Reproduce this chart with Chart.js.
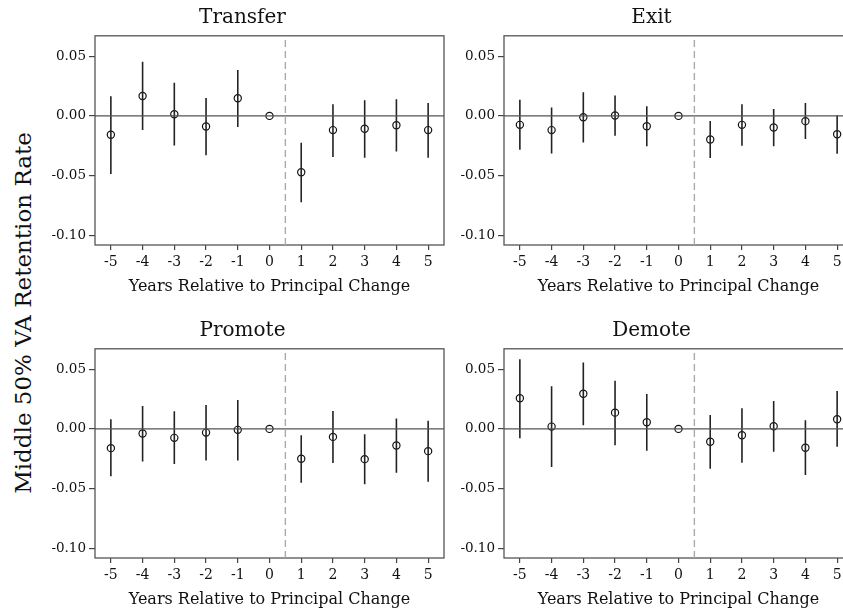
<!DOCTYPE html>
<html>
<head>
<meta charset="utf-8">
<script src="https://cdn.jsdelivr.net/npm/chart.js@4.4.0/dist/chart.umd.min.js"></script>
<style>
  html, body { margin: 0; padding: 0; background: #fff; width: 843px; height: 614px; overflow: hidden; position: relative; }
  canvas { position: absolute; }
  #ytitle {
    position: absolute; left: 23px; top: 313px;
    transform: translate(-50%, -50%) rotate(-90deg);
    font: 23px "DejaVu Serif"; white-space: nowrap; color: #111;
  }
</style>
</head>
<body>
<div id="ytitle">Middle 50% VA Retention Rate</div>
<canvas id="cTransfer" width="410" height="305" style="left:41px;top:0px"></canvas>
<canvas id="cExit" width="410" height="305" style="left:450px;top:0px"></canvas>
<canvas id="cPromote" width="410" height="305" style="left:41px;top:313px"></canvas>
<canvas id="cDemote" width="410" height="305" style="left:450px;top:313px"></canvas>
<script>
const years = [-5, -4, -3, -2, -1, 0, 1, 2, 3, 4, 5];
const yTicks = [-0.10, -0.05, 0.00, 0.05];

const transferEst = [-0.0158, 0.0167, 0.0014, -0.0089, 0.0148, 0, -0.0472, -0.0119, -0.0108, -0.0078, -0.0119];
const transferLo  = [-0.0486, -0.0119, -0.0247, -0.0330, -0.0092, null, -0.0722, -0.0344, -0.0350, -0.0297, -0.0350];
const transferHi  = [0.0164, 0.0453, 0.0278, 0.0150, 0.0383, null, -0.0225, 0.0097, 0.0131, 0.0139, 0.0108];

const exitEst = [-0.0075, -0.0119, -0.0011, 0.0003, -0.0086, 0, -0.0197, -0.0075, -0.0097, -0.0044, -0.0153];
const exitLo  = [-0.0283, -0.0314, -0.0222, -0.0167, -0.0253, null, -0.0353, -0.0250, -0.0253, -0.0194, -0.0317];
const exitHi  = [0.0136, 0.0070, 0.0197, 0.0170, 0.0081, null, -0.0042, 0.0097, 0.0058, 0.0108, 0.0006];

const promoteEst = [-0.0161, -0.0039, -0.0075, -0.0031, -0.0008, 0, -0.0250, -0.0067, -0.0253, -0.0139, -0.0186];
const promoteLo  = [-0.0397, -0.0272, -0.0294, -0.0264, -0.0264, null, -0.0450, -0.0286, -0.0464, -0.0367, -0.0442];
const promoteHi  = [0.0081, 0.0192, 0.0147, 0.0200, 0.0242, null, -0.0053, 0.0150, -0.0044, 0.0086, 0.0069];

const demoteEst = [0.0256, 0.0019, 0.0294, 0.0136, 0.0056, 0, -0.0108, -0.0053, 0.0022, -0.0158, 0.0081];
const demoteLo  = [-0.0078, -0.0319, 0.0031, -0.0136, -0.0183, null, -0.0333, -0.0283, -0.0192, -0.0386, -0.0150];
const demoteHi  = [0.0583, 0.0356, 0.0556, 0.0403, 0.0292, null, 0.0117, 0.0172, 0.0233, 0.0072, 0.0317];

const yMin = -0.108, yMax = 0.067;
const xMin = -5.5, xMax = 5.5;
const serif = "DejaVu Serif";

// box around the plot area
const frame = {
  id: 'frame',
  beforeDatasetsDraw(chart) {
    const a = chart.chartArea, c = chart.ctx;
    c.save();
    c.strokeStyle = '#555';
    c.lineWidth = 1.3;
    c.strokeRect(a.left, a.top, a.right - a.left, a.bottom - a.top);
    c.restore();
  }
};

function makeChart(id, title, est, lo, hi) {
  let ci = [];
  years.forEach((x, i) => {
    if (lo[i] == null) return;
    ci.push({x: x, y: lo[i]}, {x: x, y: hi[i]}, {x: x, y: null});
  });
  return new Chart(document.getElementById(id), {
    type: 'scatter',
    data: {
      datasets: [
        {
          data: [{x: xMin, y: 0}, {x: xMax, y: 0}],
          showLine: true, borderColor: '#555', borderWidth: 1.4, pointRadius: 0
        },
        {
          data: [{x: 0.5, y: yMin}, {x: 0.5, y: yMax}],
          showLine: true, borderColor: '#aaa', borderWidth: 1.4, borderDash: [7, 4], pointRadius: 0
        },
        {
          data: ci,
          showLine: true, spanGaps: false, borderColor: '#222', borderWidth: 1.6, pointRadius: 0
        },
        {
          data: years.map((x, i) => ({x: x, y: est[i]})),
          pointStyle: 'circle', pointRadius: 3.6, borderWidth: 1.2,
          borderColor: '#111', backgroundColor: 'rgba(0,0,0,0)'
        }
      ]
    },
    options: {
      responsive: false,
      animation: false,
      layout: { padding: { right: 7 } },
      plugins: {
        legend: { display: false },
        tooltip: { enabled: false },
        title: {
          display: true, text: title, color: '#111',
          font: { family: serif, size: 20, weight: 'normal' },
          padding: { top: 6, bottom: 5.8 }
        }
      },
      scales: {
        x: {
          type: 'linear', min: xMin, max: xMax,
          afterBuildTicks: s => { s.ticks = years.map(v => ({value: v})); },
          afterFit: s => { s.height = 60; },
          border: { display: false },
          grid: { drawOnChartArea: false, drawTicks: true, tickLength: 5, color: '#444', lineWidth: 1.2 },
          ticks: {
            color: '#111', padding: 4, maxRotation: 0, autoSkip: false,
            font: { family: serif, size: 14 },
            callback: v => String(v)
          },
          title: {
            display: true, text: 'Years Relative to Principal Change', color: '#111',
            font: { family: serif, size: 16 },
            padding: { top: 0, bottom: 9 }
          }
        },
        y: {
          min: yMin, max: yMax,
          afterBuildTicks: s => { s.ticks = yTicks.map(v => ({value: v})); },
          afterFit: s => { s.width = 54; },
          border: { display: false },
          grid: { drawOnChartArea: false, drawTicks: true, tickLength: 6, color: '#444', lineWidth: 1.2 },
          ticks: {
            color: '#111', padding: 3,
            font: { family: serif, size: 13.5 },
            callback: v => v.toFixed(2)
          }
        }
      }
    },
    plugins: [frame]
  });
}

makeChart('cTransfer', 'Transfer', transferEst, transferLo, transferHi);
makeChart('cExit', 'Exit', exitEst, exitLo, exitHi);
makeChart('cPromote', 'Promote', promoteEst, promoteLo, promoteHi);
makeChart('cDemote', 'Demote', demoteEst, demoteLo, demoteHi);
</script>
</body>
</html>
